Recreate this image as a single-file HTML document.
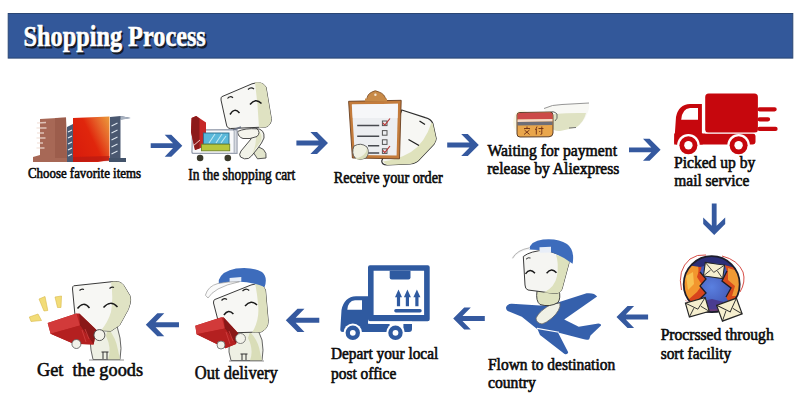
<!DOCTYPE html>
<html><head><meta charset="utf-8">
<style>
html,body{margin:0;padding:0;background:#fff;width:800px;height:418px;overflow:hidden}
svg{display:block}
.t{font-family:"Liberation Serif",serif;fill:#0a0a0a;stroke:#0a0a0a;stroke-width:0.6px}
.ttl{font-family:"Liberation Serif",serif;font-weight:bold}
</style></head><body>
<svg width="800" height="418" viewBox="0 0 800 418">
<defs>
<g id="arr">
<polygon points="0,0 -11,-11 -17.6,-11 -9.3,-2.4 -31.6,-2.4 -31.6,2.4 -9.3,2.4 -17.6,11 -11,11" fill="#35599f"/>
</g>
</defs>
<!-- banner -->
<rect x="8.2" y="13.5" width="784.6" height="44.6" fill="#33589a" stroke="#2a4674" stroke-width="1"/>
<text class="ttl" x="23.6" y="46.4" font-size="29.8" textLength="182.2" lengthAdjust="spacingAndGlyphs" fill="#141a26" stroke="#141a26" stroke-width="0.8" transform="translate(1.6,1.9)">Shopping Process</text>
<text class="ttl" x="23.6" y="46.4" font-size="29.8" textLength="182.2" lengthAdjust="spacingAndGlyphs" fill="#fff" stroke="#fff" stroke-width="0.6">Shopping Process</text>

<!-- arrows row 1 -->
<use href="#arr" transform="translate(182.3,145.7)"/>
<use href="#arr" transform="translate(328,143)"/>
<use href="#arr" transform="translate(478.8,145)"/>
<use href="#arr" transform="translate(660.6,149.8)"/>
<use href="#arr" transform="translate(714.2,235) rotate(90)"/>
<use href="#arr" transform="translate(616.5,317) rotate(180)"/>
<use href="#arr" transform="translate(453.2,318.5) rotate(180)"/>
<use href="#arr" transform="translate(285.8,320.3) rotate(180) scale(1.06)"/>
<use href="#arr" transform="translate(145.8,324.8) rotate(180) scale(1.05)"/>


<!-- books -->
<defs>
<linearGradient id="redbk" x1="0" y1="0.75" x2="1" y2="0.15">
<stop offset="0" stop-color="#d81c0c"/><stop offset="0.5" stop-color="#e0260c"/><stop offset="0.78" stop-color="#e6642a"/><stop offset="1" stop-color="#ea9036"/>
</linearGradient>
</defs>
<path d="M33,157 L40,155 L40,119 L66,117.5 L67,157 L71,158 L71,162 L33,162 Z" fill="#a76856"/>
<path d="M55,118 L66,117.5 L67,158 L55,158 Z" fill="#9a5a4a" opacity="0.8"/>
<path d="M37,123 l9,-0.5 M36.5,128 l10,0 M37,133 l7,0 M36.5,138 l9,0 M37,143 l6,0 M36.5,148 l8,0" stroke="#f2e0d8" stroke-width="1.3" opacity="0.75"/>
<path d="M67,127 L73,124 L73,162 L67,162 Z" fill="#4b5a72"/>
<path d="M68,132 l4,-2 M68,138 l4,-2 M68,144 l4,-2 M68,150 l4,-2 M68,156 l4,-2" stroke="#e8eef4" stroke-width="1.1"/>
<path d="M73,118 L109.5,116.5 L109.5,160 L98,162 L73,162 Z" fill="url(#redbk)"/>
<path d="M73,157 L109.5,156 L109.5,161 L73,162 Z" fill="#b81a12" opacity="0.7"/>
<path d="M110,117 L120.5,116 L130.5,118 L120.5,119.5 L120.5,162 L110,162 Z" fill="#4a5870"/>
<path d="M120.5,116 L130.8,117.9 L120.5,120 Z" fill="#a8b2c0"/>
<path d="M111.5,126 l6,-3 M111.5,133 l6,-3 M111.5,140 l6,-3 M111.5,147 l6,-3 M111.5,154 l6,-3" stroke="#dde5ee" stroke-width="1.1"/>
<path d="M109,158 L126,158 L126,162 L109,162 Z" fill="#43536a"/>


<!-- cart character -->
<path d="M255,145 L263.5,149.5 Q267,153 266,158 L257.5,158.8 L253,152 Z" fill="#e2e5cc" stroke="#444" stroke-width="0.9"/>
<path d="M256,128.5 Q265,129 264,138 Q262,143 258,148 L251.5,156 Q249,159.5 244.5,158.8 L240.5,157 Q238.5,154.5 241,151 L251,139 Z" fill="#f1f2e8" stroke="#3a3a3a" stroke-width="0.9"/>
<path d="M258,131 Q263,134 261,141 L252,154 Q256,146 256,138 Z" fill="#dfe2c2"/>
<path d="M237.5,131.5 Q245,128 257,128.8 Q261,132.5 257,136.5 Q250,139.5 243,138.5 Q238,137 237.5,131.5 Z" fill="#f4f4ec" stroke="#3a3a3a" stroke-width="0.9"/>


<path d="M221.8,96.7 L252,83.8 Q262,80.5 266,87 L271.3,118.6 Q271.5,125 266,127 L230.6,128.5 Q226.8,128.5 226.3,124 L221,100 Q220.8,97.3 221.8,96.7 Z" fill="#f7f7f4" stroke="#3a3a3a" stroke-width="1"/>
<path d="M255,82.5 Q262,81 266,87 L271.3,118.6 Q271.5,125 266,127 L259,127.8 Q258,105 255,82.5 Z" fill="#dfe2c2"/>
<path d="M227.5,98.5 Q230,95.3 233,97.8 M248,89.5 Q251,86.5 254,89" stroke="#222" stroke-width="1.2" fill="none"/>
<path d="M230,114.5 Q234.5,107 239.5,113 M250,104.5 Q255.5,97.5 261.5,103.5" stroke="#1a1a1a" stroke-width="1.5" fill="none"/>
<!-- cart -->
<path d="M192.5,130 L237,129.7 L237,153.4 L193,153.4 Q191.5,153 192,150 Z" fill="#f8f9fb" stroke="#9aa1b0" stroke-width="1.3"/>
<path d="M191.6,118 L196.2,116 L206,122.5 L206,146 L195,150 L191,132 Z" fill="#c62828"/>
<path d="M191.6,118 L196.2,116 L199.5,118.5 L199.5,148.5 L195,150 L191,132 Z" fill="#8c1a1a"/>
<path d="M193,146 L200,140" stroke="#f0c8c8" stroke-width="1"/>
<path d="M233,130 L241,127" stroke="#6a7284" stroke-width="1.4"/>
<path d="M234.5,130 L234.5,153" stroke="#b8bec8" stroke-width="2"/>
<rect x="203.4" y="133" width="25.6" height="11.2" fill="#5ab8da" stroke="#2c6d8c" stroke-width="0.9"/>
<path d="M209,143 L215,134 M216,143 L222,134 M221,143 L226,136" stroke="#bfe8f4" stroke-width="1.1"/>
<rect x="201.4" y="144.2" width="28.3" height="6.6" fill="#b7c63c" stroke="#6f8424" stroke-width="0.9"/>
<circle cx="200.1" cy="158" r="3.3" fill="#3b3a2c"/>
<circle cx="227.8" cy="158" r="3.3" fill="#3b3a2c"/>

<!-- clipboard -->
<path d="M401.8,110 L425.3,117.6 Q431,119 432.8,123.5 L436.1,138.5 Q436,141 434,144 L420.2,158.6 Q417,163 410,164 L387,165 Q382,165 381.7,161 Z" fill="#f7f7f4" stroke="#2e2e2e" stroke-width="1.2"/>
<path d="M431.5,122.5 Q425,143 411,152 Q397,160 383,161.5 L387,165 L410,164 Q417,163 420.2,158.6 L434,144 Q436,141 436.1,138.5 L432.8,123.5 Z" fill="#dfe2bc"/>
<path d="M419.5,121 L425,124.5 M408.5,139.5 L419,145.5" stroke="#1e1e1e" stroke-width="1.3"/>
<path d="M348.6,101.3 L401.2,100.3 L399.5,158.8 L352.4,158 Z" fill="#c47c3c" stroke="#6a4020" stroke-width="0.9"/>
<path d="M351.8,104.5 L398,103.8 L396.6,155.6 L354.8,155 Z" fill="#eceef1"/>
<path d="M352,104.5 L398,103.8 L397.5,118 L352.8,118 Z" fill="#f6f7f9"/>
<path d="M366.8,100 Q367,94 372,92 Q375,89.5 379,92 Q385,94 385.9,100 Z" fill="#c88a48" stroke="#7a4a22" stroke-width="0.8"/>
<circle cx="375.4" cy="94.8" r="1.2" fill="#f4e4d0"/>
<rect x="365" y="98.5" width="22" height="3" fill="#c88a48"/>
<path d="M357.2,125.5 L379.2,125.5 M357.2,136.2 L379.2,136.2 M368,145.8 L379.2,145.8 M368,152.9 L379.2,152.9" stroke="#474a50" stroke-width="1.5"/>
<g fill="none" stroke="#555" stroke-width="1">
<rect x="382.4" y="121" width="4.6" height="4.6"/><rect x="382.4" y="130.6" width="4.6" height="4.6"/>
<rect x="382.4" y="139.8" width="4.6" height="4.6"/><rect x="382.4" y="148.8" width="4.6" height="4.6"/>
</g>
<path d="M382.8,122.8 L384.8,125 L390,118.5 M382.8,150.3 L384.8,152.5 L390,146" stroke="#b83838" stroke-width="1.2" fill="none"/>
<path d="M354,146 Q361,142 367,147 Q370,153 366,158 Q360,161 355,158 Q351,153 354,146 Z" fill="#eff0e2" stroke="#555" stroke-width="0.9"/>
<path d="M367,148 Q369,154 365,158 Q358,161 355,158 Q362,158 366,152 Z" fill="#d9dcb8"/>


<!-- payment card -->
<ellipse cx="522" cy="122" rx="9" ry="12" fill="#fbf6dc" opacity="0.7"/>
<path d="M544,108.5 Q552,104.5 562,104.5 L589,103 Q590,108 587,114 Q584,122 576,127.5 L560,131 Q554,131.5 552,128 Z" fill="#f8f8f4"/>
<path d="M554,114 Q570,112.5 586,113 Q584,122 576,127.5 L560,131 Q554,131.5 552,128 Z" fill="#dfe2c3"/>
<path d="M544,108.5 Q552,104.5 562,104.5 L589,103" fill="none" stroke="#8a8a8a" stroke-width="0.9"/>
<path d="M549,113 Q553,110 557,114 Q558,119 555,121" fill="none" stroke="#555" stroke-width="0.9"/>
<path d="M569,128 L576,127.5" stroke="#666" stroke-width="0.9"/>
<path d="M517,115 Q517,112.5 520,112.5 L550,112 Q553,112 553,115 L553,133 Q553,136.5 549,136.8 L520,137 Q517,137 517,134 Z" fill="#e9a64c" stroke="#4a3020" stroke-width="0.9"/>
<path d="M517.5,114.5 Q517.5,113 520,113 L550,112.6 Q552.5,112.6 552.5,114.5 L552.5,119 L517.5,119.5 Z" fill="#cc4a48"/>
<path d="M517.5,119.5 L552.5,119 L552.5,121.5 L517.5,122 Z" fill="#f2d8c8"/>
<path d="M517.5,122 L552.5,121.5 L552.5,125 L517.5,125.5 Z" fill="#6e6e78"/>
<path d="M524,128.5 L530,128.5 M527,126.5 L527,129 M524.5,130 L529.5,134.5 M529.5,130 L524,134.5 M537,126.5 L535.5,130 M536.3,129 L536.3,134.5 M538.5,128.5 L543.5,128.5 M541.8,126.5 L541.8,134 L540.5,134.5 M539.5,131 L540,132" stroke="#6a2a12" stroke-width="0.9" fill="none"/>

<!-- red truck -->
<g fill="#c6070d">
<rect x="705.2" y="93.4" width="52.7" height="39.3" rx="3.5"/>
<path d="M701.9,104 L690,104 Q678.5,104.5 676,117 L674.3,141.8 Q674.3,144.4 677,144.4 L702.7,144.4 L702.7,133.6 L701.9,133.6 Z"/>
<path d="M674.2,133.6 L752.5,133.6 Q755.5,133.6 755.5,136.6 L755.5,141.5 Q755.5,144.4 752.5,144.4 L674.2,144.4 Z"/>
<path d="M759.5,109.3 L774.6,109.3 M759.5,119.3 L768,119.3 M759.5,128.9 L775.5,128.9" stroke="#c6070d" stroke-width="4.3" stroke-linecap="round"/>
</g>
<path d="M681.2,119.7 Q682,108.8 690,108 L698,108 L698,119.7 Z" fill="#fff"/>
<line x1="705.2" y1="133.1" x2="757.9" y2="133.1" stroke="#fff" stroke-width="0.9"/>
<circle cx="688.4" cy="145.3" r="11.3" fill="#fff"/>
<circle cx="738.6" cy="145.3" r="11.3" fill="#fff"/>
<circle cx="688.4" cy="145.3" r="9" fill="#c6070d"/>
<circle cx="738.6" cy="145.3" r="9" fill="#c6070d"/>
<circle cx="688.4" cy="145.3" r="4.2" fill="#fff"/>
<circle cx="738.6" cy="145.3" r="4.2" fill="#fff"/>


<!-- blue truck -->
<g fill="#2f5aa0">
<path fill-rule="evenodd" d="M370,265.2 L427.7,265.2 Q429.7,265.2 429.7,267.2 L429.7,319.3 Q429.7,321.3 427.7,321.3 L370,321.3 Q368,321.3 368,319.3 L368,267.2 Q368,265.2 370,265.2 Z M373.6,270.8 L373.6,314.9 L424.1,314.9 L424.1,270.8 Z"/>
<path d="M389.7,270.8 L410.5,270.8 L410.5,277.6 Q410.5,279.6 408.5,279.6 L391.7,279.6 Q389.7,279.6 389.7,277.6 Z"/>
<path d="M368,296.3 L356,296.3 Q344,297 341.5,310 L340.3,329.5 Q340.3,332 342.8,332 L389.6,332 L389.6,324 L370,324 L368,321.3 Z"/>
<path d="M403.4,324 L412,324 L412,329 Q412,332 409,332 L403.4,332 Z"/>
<path d="M398.5,289.6 L402,297.2 L400.1,297.2 L400.1,306.2 L396.9,306.2 L396.9,297.2 L395,297.2 Z M407.4,289.6 L410.9,297.2 L409,297.2 L409,306.2 L405.8,306.2 L405.8,297.2 L403.9,297.2 Z M416.9,289.6 L420.4,297.2 L418.5,297.2 L418.5,306.2 L415.3,306.2 L415.3,297.2 L413.4,297.2 Z"/>
<path d="M395.9,310.7 L420,310.7" stroke="#2f5aa0" stroke-width="3.4" stroke-linecap="round"/>
</g>
<path d="M347.3,309.7 Q348,301 355,300.3 L362,300.3 L362,309.7 Z" fill="#fff"/>
<line x1="368" y1="322.6" x2="412" y2="322.6" stroke="#fff" stroke-width="2.4"/>
<circle cx="352.8" cy="332.8" r="9.3" fill="#fff"/>
<circle cx="395.5" cy="332.8" r="9.3" fill="#fff"/>
<circle cx="352.8" cy="332.8" r="7.2" fill="#2f5aa0"/>
<circle cx="395.5" cy="332.8" r="7.2" fill="#2f5aa0"/>
<circle cx="352.8" cy="332.8" r="2.9" fill="#fff"/>
<circle cx="395.5" cy="332.8" r="2.9" fill="#fff"/>


<!-- plane -->
<path d="M506,307.5 Q507,303.5 512,303.8 L540,305.5 L550,305 L586.6,293.3 Q594.5,292.5 597.1,296.6 L564.2,319.6 L578.7,326.8 L598.4,323.6 Q601.5,324 601,325.5 L590.5,335.4 L589.2,339.3 Q587,340.5 583,339 L558,332.5 L568.2,352.3 Q567.5,355 564.6,354 L540,335 L537.7,329.4 L521.8,316.8 L509,311.5 Q506,310.5 506,307.5 Z" fill="#3560ac"/>
<path d="M537,328.4 L559,332.2" stroke="#fff" stroke-width="1.1"/>
<!-- pilot -->
<path d="M536,318 Q540,310 552,304 L560,303 Q561,310 552,318 Q546,323 542,324 Q536,323 536,318 Z" fill="#f0f1e6" stroke="#666" stroke-width="0.8"/>
<path d="M537,291 Q535.5,301 540,304.5 Q550,307.5 558,302.5 Q561,298 559,290 Z" fill="#dfe3c0" stroke="#333" stroke-width="0.9"/>
<path d="M523.3,256.5 Q530,251 546,250 L566,257 Q569.5,260 569,263 L562,289 Q560,293.5 555,293.5 L528,290 Q525,289 525,285 Z" fill="#f5f5f2" stroke="#3a3a3a" stroke-width="1"/>
<path d="M556,255 L566,257 Q569.5,260 569,263 L562,289 Q560,293.5 555,293.5 L544,292.5 Q555,287 557,276 Q559,263 556,255 Z" fill="#dde1bd"/>
<path d="M529,249.5 Q530.5,241 543,239.5 Q558,238 567,244 Q575,250 572.6,263.7 Q561,255 549,251.5 Q538,249.5 529,249.5 Z" fill="#3d6cbc"/>
<path d="M539.5,247.2 L551,246.7 L551,252.5 L539.5,252.8 Z" fill="#e8eef8"/>
<path d="M512.5,258.3 Q517,250.5 530,248.5" stroke="#f4f4f4" stroke-width="2" fill="none"/>
<path d="M512.5,258.3 Q517,250 529.5,247.8" stroke="#9a9a9a" stroke-width="0.7" fill="none"/>
<path d="M526,259.2 Q528,257 530.5,258" stroke="#333" stroke-width="1" fill="none"/>
<path d="M525.5,273.8 Q530,267.5 535,273.3 M546.6,273.3 Q551.5,267 556.5,272.8" stroke="#1a1a1a" stroke-width="1.4" fill="none"/>

<!-- globe -->
<defs><clipPath id="gc"><circle cx="711.7" cy="284.2" r="28"/></clipPath>
<g id="env"><rect x="-10" y="-7" width="20" height="14" fill="#f6efcf" stroke="#262626" stroke-width="1.1"/><path d="M-10,-7 L0,2 L10,-7 M-10,7 L-3.5,0 M10,7 L3.5,0" stroke="#262626" stroke-width="0.8" fill="none"/></g>
<radialGradient id="gblue" cx="0.5" cy="0.55" r="0.5"><stop offset="0" stop-color="#5a80e0"/><stop offset="1" stop-color="#3c4ca8"/></radialGradient>
</defs>
<circle cx="711.7" cy="284.2" r="28" fill="url(#gblue)"/>
<g clip-path="url(#gc)">
<path d="M680,258 L700,258 Q703,266 700,272 L706,279 L700,286 L706,293 L699,300 L690,308 L680,306 Z" fill="#d8441c"/>
<path d="M683,266 L697,262 Q700,270 697,277 L702,285 L697,292 L688,300 L683,296 Z" fill="#f2962e"/>
<path d="M686,276 L693,272 L694,284 L688,290 Z" fill="#f8c050"/>
<path d="M722,258 L744,258 L744,306 L731,306 L726,297 L731,288 L722,281 L727,271 Z" fill="#d84c1c"/>
<path d="M728,268 L741,272 L741,296 L732,296 L735,286 L728,280 Z" fill="#f09a34"/>
<path d="M680,254 L745,254 L745,264 L732,267 L716,263 L700,267 L680,264 Z" fill="#2c2f78"/>
<path d="M694,303 L712,299 L728,303 L736,316 L690,316 Z" fill="#4a3c90"/>
<path d="M700,272 L706,279 L700,286 L706,293 L699,300 M727,271 L722,281 L731,288 L726,297" stroke="#1e1e28" stroke-width="1.3" fill="none"/>
</g>
<circle cx="711.7" cy="284.2" r="28" fill="none" stroke="#1d1d2a" stroke-width="1.8"/>
<path d="M681.5,290 Q677,270 690,259 Q697,254 706,255" fill="none" stroke="#d23a32" stroke-width="0.9"/>
<path d="M722,256 Q738,260 743,272 Q746,282 740,292" fill="none" stroke="#d23a32" stroke-width="0.9"/>
<path d="M685,300 Q700,312 720,310" fill="none" stroke="#d23a32" stroke-width="0.7" opacity="0.6"/>
<use href="#env" transform="translate(714,270.5) rotate(8) scale(0.97)"/>
<use href="#env" transform="translate(697.3,307.2) rotate(-16) scale(1.03)"/>
<use href="#env" transform="translate(729.4,309.6) rotate(-20) scale(1.05,1.2)"/>

<!-- out delivery character -->
<path d="M232,330 Q228,342 229,352 L231,360.5 L262,360.5 Q264,350 262,340 L258,330 Z" fill="#eef0e4" stroke="#555" stroke-width="0.9"/>
<path d="M250,332 Q258,340 260,352 L262,360.5 L250,360.5 Q254,350 248,338 Z" fill="#d9ddb8"/>
<path d="M242,354 L242,360 M246,354 L246,360 M240.5,354 L247.5,354" stroke="#333" stroke-width="1"/>
<path d="M229,361 L264,361" stroke="#777" stroke-width="0.8"/>
<path d="M214.4,299.7 L251,285 Q262,281 265.5,290 L268.2,321.2 Q268,329 261,332 L226,333 Q221,333 220,328 L213.5,303 Q213.5,300.5 214.4,299.7 Z" fill="#f7f7f4" stroke="#3a3a3a" stroke-width="1"/>
<path d="M255,283.5 Q262,282 265.5,290 L268.2,321.2 Q268,329 261,332 L252,332.5 Q260,320 258,304 Q257,292 255,283.5 Z" fill="#dee1bf"/>
<path d="M218.8,280 Q222,271 236,268.5 Q252,266.5 262,272 Q268,277 264.6,287.1 Q250,281 235,281.5 Q225,282 218.8,284 Z" fill="#3d6cbc"/>
<path d="M229.6,278 L241.3,277 L241.3,281.5 L229.6,282.3 Z" fill="#e8eef8"/>
<path d="M205.4,295.2 Q208,286 218,283.5 Q228,281.5 239.5,281.7 Q226,284.5 218,289 Q211,293 208,298 Z" fill="#fafafa" stroke="#9a9a9a" stroke-width="0.7"/>
<path d="M221.5,300.5 Q224,297.5 227,299.5 M242.5,291 Q246,287.5 249.2,290.5" stroke="#222" stroke-width="1.2" fill="none"/>
<path d="M223.9,315 Q228.5,308.5 233.4,314 M245,306 Q251,299 257,305" stroke="#1a1a1a" stroke-width="1.5" fill="none"/>
<path d="M195.3,325.8 L221.6,317.2 L223.5,317.2 L238.7,333.7 L236,344 L225.5,348.2 L196.6,334.3 Z" fill="#b82222"/>
<path d="M195.3,325.8 L221.6,317.2 L224.9,328.4 L196.6,334.3 Z" fill="#d23a3a"/>
<path d="M223.5,317.2 L238.7,333.7 L236,344 L224.9,328.4 Z" fill="#8a1818"/>
<path d="M196.6,334.3 L224.9,328.4 L236,344 L225.5,348.2 Z" fill="#b42020"/>
<path d="M226,332 L230,344 M229,331 L233,341" stroke="#d04040" stroke-width="0.8"/>
<circle cx="221" cy="345" r="4" fill="#f2f2ea" stroke="#666" stroke-width="0.8"/>
<circle cx="240.5" cy="338.5" r="5" fill="#f2f2ea" stroke="#666" stroke-width="0.8"/>

<!-- get the goods character -->
<path d="M91,327 Q89,340 91,350 L93,359.5 L120,359.5 Q122,348 120,338 L117,326 Z" fill="#eef0e4" stroke="#555" stroke-width="0.9"/>
<path d="M108,328 Q116,338 118,350 L120,359.5 L108,359.5 Q112,348 106,336 Z" fill="#d9ddb8"/>
<path d="M103,352 L103,359 M107,352 L107,359 M101.5,352 L108.5,352" stroke="#333" stroke-width="1"/>
<path d="M89,360 L124,360" stroke="#777" stroke-width="0.8"/>
<path d="M73.7,285.8 L113.9,281.5 Q121,281 124,285.8 L130.4,296.5 Q131,300 130,304 L128.3,309.4 L119.6,325.2 L111,331 L80,330 Q76.5,330 76,326 L72.5,289 Q72.5,286 73.7,285.8 Z" fill="#f7f7f4" stroke="#3a3a3a" stroke-width="1"/>
<path d="M111,282 L114,281.5 Q121,281 124,285.8 L130.4,296.5 Q131,300 130,304 L128.3,309.4 L119.6,325.2 L111,331 L101,330.5 Q108,322 111,312 Q113.5,298 111,282 Z" fill="#e0e3c4"/>
<path d="M79.5,290.5 Q81.5,288.5 84,289.5 M109.5,288.5 Q112,286.5 114,287.5" stroke="#222" stroke-width="1.2" fill="none"/>
<path d="M77.5,308.5 Q83.5,300.5 89.5,308 M103.5,307.5 Q110.5,299.5 117.5,307" stroke="#1a1a1a" stroke-width="1.5" fill="none"/>
<path d="M47.7,322.9 L76.4,313.6 L79.3,313.6 L96.5,330.1 L93.6,344.5 L73.6,343.7 L50.6,333.7 Z" fill="#b82222"/>
<path d="M47.7,322.9 L76.4,313.6 L80,325.5 L50.6,333.7 Z" fill="#d23a3a"/>
<path d="M79.3,313.6 L96.5,330.1 L93.6,344.5 L80,325.5 Z" fill="#8a1818"/>
<path d="M50.6,333.7 L80,325.5 L93.6,344.5 L73.6,343.7 Z" fill="#b42020"/>
<path d="M82,330 L86,342 M85,329 L89,339" stroke="#d04040" stroke-width="0.8"/>
<circle cx="76.4" cy="344" r="4.5" fill="#f2f2ea" stroke="#555" stroke-width="0.8"/>
<circle cx="99.4" cy="335.1" r="5.5" fill="#f2f2ea" stroke="#444" stroke-width="0.9"/>
<g fill="#f2dc78" stroke="#d8b848" stroke-width="0.6">
<path d="M29.3,317 L38,314 L41.5,320.5 L31,321.5 Z"/>
<path d="M39,299 L45,296.5 L47.8,310.5 L44,311 Z"/>
<path d="M55,297 L61.5,296 L61,307.5 L57.5,307.5 Z"/>
</g>

<!-- texts -->
<text class="t" x="28" y="178.3" font-size="14.18" textLength="113" lengthAdjust="spacingAndGlyphs">Choose favorite items</text>
<text class="t" x="188.3" y="179.6" font-size="16.28" textLength="107" lengthAdjust="spacingAndGlyphs">In the shopping cart</text>
<text class="t" x="333.7" y="183.2" font-size="15.75" textLength="109" lengthAdjust="spacingAndGlyphs">Receive your order</text>
<text class="t" x="487.5" y="156.0" font-size="16.48" textLength="129.5" lengthAdjust="spacingAndGlyphs">Waiting for payment</text>
<text class="t" x="487.2" y="173.8" font-size="16.48" textLength="132.2" lengthAdjust="spacingAndGlyphs">release by Aliexpress</text>
<text class="t" x="674" y="167.6" font-size="16.28" textLength="81.3" lengthAdjust="spacingAndGlyphs">Picked up by</text>
<text class="t" x="674.3" y="186.2" font-size="16.28" textLength="75" lengthAdjust="spacingAndGlyphs">mail service</text>
<text class="t" x="660.7" y="339.8" font-size="16.28" textLength="113" lengthAdjust="spacingAndGlyphs">Procrssed through</text>
<text class="t" x="660.7" y="358.5" font-size="16.28" textLength="70.5" lengthAdjust="spacingAndGlyphs">sort facility</text>
<text class="t" x="488" y="369.8" font-size="16.28" textLength="127.2" lengthAdjust="spacingAndGlyphs">Flown to destination</text>
<text class="t" x="488" y="387.6" font-size="16.28" textLength="47.8" lengthAdjust="spacingAndGlyphs">country</text>
<text class="t" x="331" y="359.4" font-size="16.07" textLength="107.2" lengthAdjust="spacingAndGlyphs">Depart your local</text>
<text class="t" x="331" y="378.6" font-size="16.07" textLength="65.3" lengthAdjust="spacingAndGlyphs">post office</text>
<text class="t" x="194.8" y="378.6" font-size="17.85" textLength="83" lengthAdjust="spacingAndGlyphs">Out delivery</text>
<text class="t" x="37" y="375.6" font-size="18.90" textLength="106" lengthAdjust="spacingAndGlyphs" xml:space="preserve">Get  the goods</text>

</svg>
</body></html>
